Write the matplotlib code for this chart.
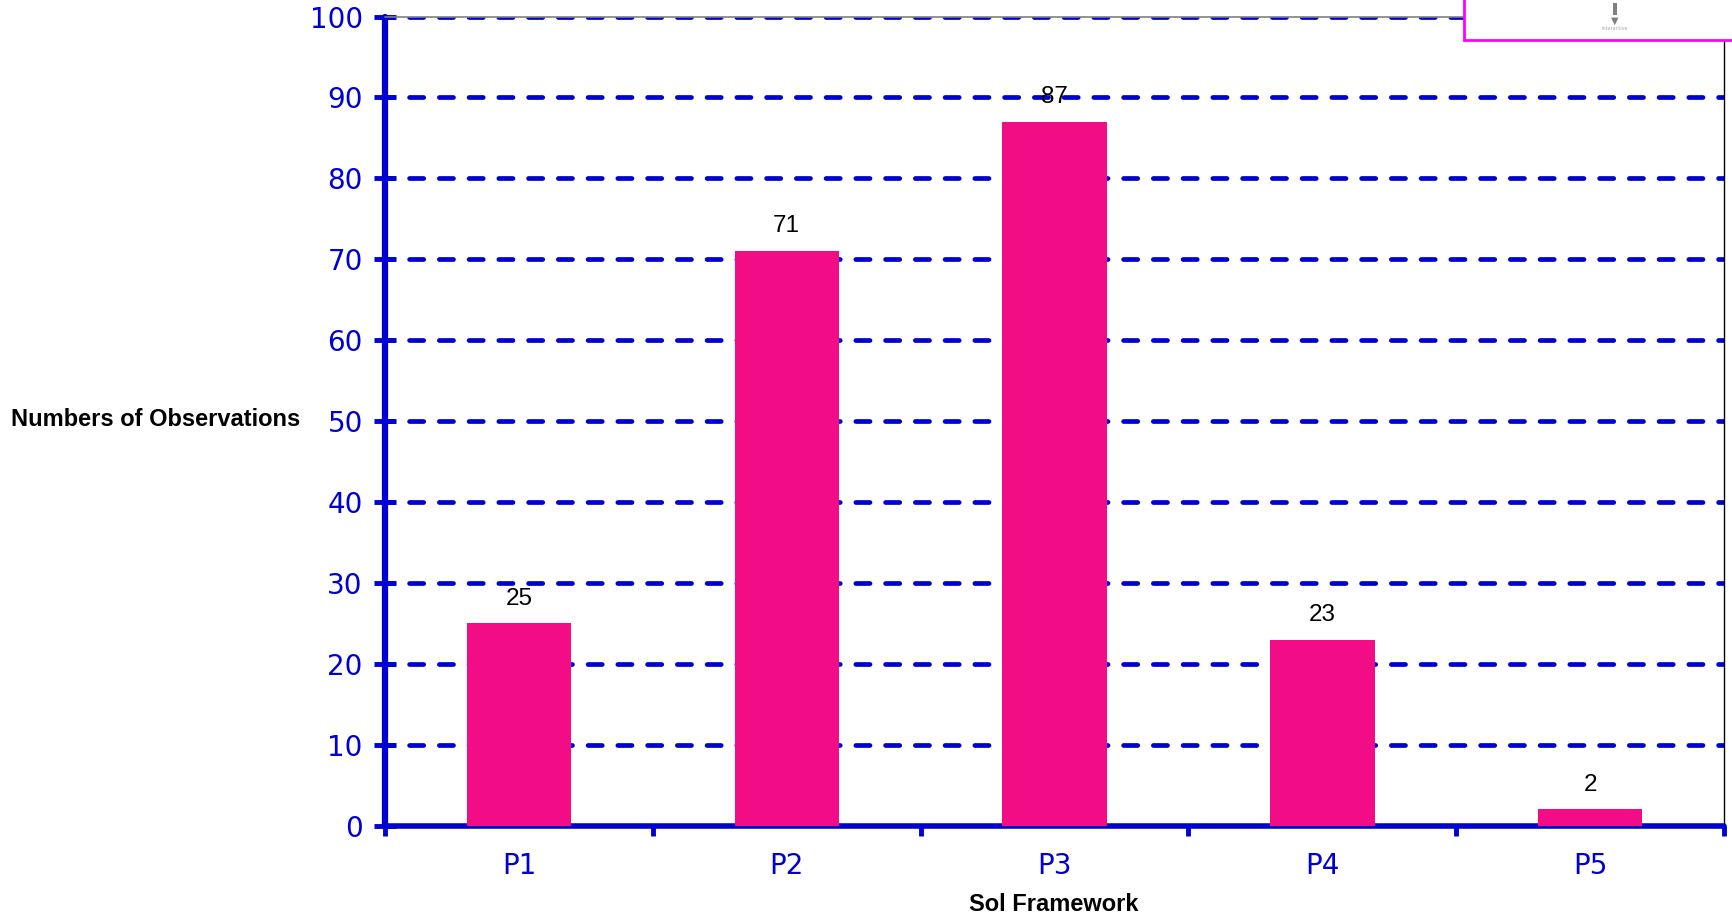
import matplotlib
matplotlib.use('Agg')
import matplotlib.pyplot as plt
from matplotlib.patches import Rectangle

categories = ['P1', 'P2', 'P3', 'P4', 'P5']
observations = [25, 71, 87, 23, 2]
y_ticks = [0, 10, 20, 30, 40, 50, 60, 70, 80, 90, 100]

blue = '#0000D2'
pink = '#F20C86'

fig = plt.figure(figsize=(17.33, 9.16), dpi=100)
ax = fig.add_axes([0.2222, 0.0987, 0.7726, 0.8832])

x = range(len(categories))
ax.bar(x, observations, width=0.39, color=pink, zorder=3)
for i, v in enumerate(observations):
	ax.text(i, v + 1.7, str(v), ha='center', va='bottom', fontsize=17.5,
			family='Liberation Sans', color='black', zorder=4)

# dashed horizontal grid
for t in y_ticks[1:]:
	ax.axhline(t, color=blue, lw=3.4, linestyle=(1.2, (3.0, 3.3)),
			   dash_capstyle='round', zorder=1)

ax.set_xlim(-0.5, 4.5)
ax.set_ylim(0, 100)

# category boundaries get the tick marks, centres get the labels
ax.set_xticks([i - 0.5 for i in range(len(categories) + 1)])
ax.set_xticklabels([])
ax.set_xticks(list(x), minor=True)
ax.set_xticklabels(categories, minor=True, fontsize=20, color=blue, family='DejaVu Sans')
ax.tick_params(axis='x', which='major', direction='out', length=7, width=3.5, color=blue)
ax.tick_params(axis='x', which='minor', length=0, pad=19)

ax.set_yticks(y_ticks)
ax.set_yticklabels([str(t) for t in y_ticks], fontsize=20, color=blue, family='DejaVu Sans')
ax.tick_params(axis='y', direction='inout', length=16, width=3.5, color=blue, pad=8)

ax.spines['left'].set_color(blue)
ax.spines['left'].set_linewidth(4.5)
ax.spines['bottom'].set_color(blue)
ax.spines['bottom'].set_linewidth(4.0)
ax.spines['top'].set_color('#808080')
ax.spines['top'].set_linewidth(1.2)
ax.spines['right'].set_color('black')
ax.spines['right'].set_linewidth(1.0)
for s in ax.spines.values():
	s.set_capstyle('round')

fig.text(0.0063, 0.5418, 'Numbers of Observations', fontsize=17, fontweight='bold',
		 family='Liberation Sans', ha='left', va='center')
fig.text(0.608, 0.0131, 'Sol Framework', fontsize=17, fontweight='bold',
		 family='Liberation Sans', ha='center', va='center')

# small overlay box in the top right corner
box = Rectangle((0.8448, 0.9563), 0.16, 0.06, transform=fig.transFigure,
				facecolor='white', edgecolor='#FF00FF', lw=2.0, zorder=10)
fig.patches.append(box)
fig.patches.append(Rectangle((0.9308, 0.9835), 0.0022, 0.0135, transform=fig.transFigure,
							 facecolor='#808080', edgecolor='none', zorder=11))
fig.text(0.9319, 0.9770, '\u25bc', fontsize=7, color='#808080', ha='center', va='center', zorder=11)
fig.text(0.9319, 0.9688, 'interactive', fontsize=3.5, color='#a8a8a8', ha='center', va='center', zorder=11)

fig.savefig('out.png', dpi=100)
